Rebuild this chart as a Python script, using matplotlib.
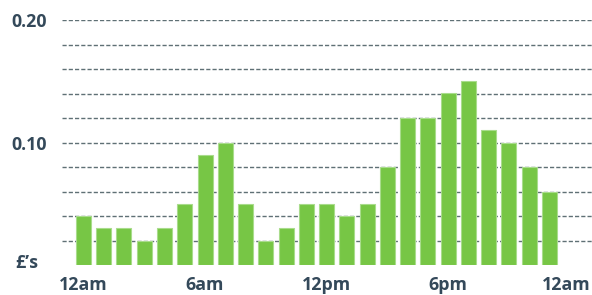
import numpy as np
import matplotlib.pyplot as plt

# hourly cost, 12am .. 11pm
hours = np.arange(24)
cost = [0.04, 0.03, 0.03, 0.02, 0.03, 0.05, 0.09, 0.10, 0.05, 0.02, 0.03, 0.05,
        0.05, 0.04, 0.05, 0.08, 0.12, 0.12, 0.14, 0.15, 0.11, 0.10, 0.08, 0.06]
tick_pos = [0, 6, 12, 18, 23.85]
tick_labels = ["12am", "6am", "12pm", "6pm", "12am"]
grid_vals = np.arange(0.02, 0.201, 0.02)

text_col = "#34495a"
bar_col = "#77c645"

fig = plt.figure(figsize=(5.92, 2.95), dpi=100)
ax = fig.add_axes([62/592, 30/295, 530/592, 245/295])

for g in grid_vals:
    ax.axhline(g, color="#5f7075", lw=1.0, ls=(0, (3, 1.5)), zorder=1)

ax.bar(hours, cost, width=0.74, color=bar_col, edgecolor="#a9dc8c", lw=0.8, zorder=2)

ax.set_xlim(-1.06, 25.1)
ax.set_ylim(0, 0.20)
for s in ax.spines.values():
    s.set_visible(False)

ax.set_xticks(tick_pos)
ax.set_xticklabels(tick_labels)
ax.set_yticks([0.10, 0.20])
ax.set_yticklabels(["0.10", "0.20"])
ax.tick_params(length=0, labelsize=12.8, labelcolor=text_col)
ax.tick_params(axis="x", pad=8)
ax.tick_params(axis="y", pad=11)
for lab in ax.get_xticklabels() + ax.get_yticklabels():
    lab.set_fontweight("bold")
    lab.set_fontfamily("Open Sans")

ax.text(15/592, 32/295, "£’s", transform=fig.transFigure, ha="left", va="center",
        fontsize=12.8, fontweight="bold", color=text_col, family="Open Sans")

fig.savefig("out.png", dpi=100)
